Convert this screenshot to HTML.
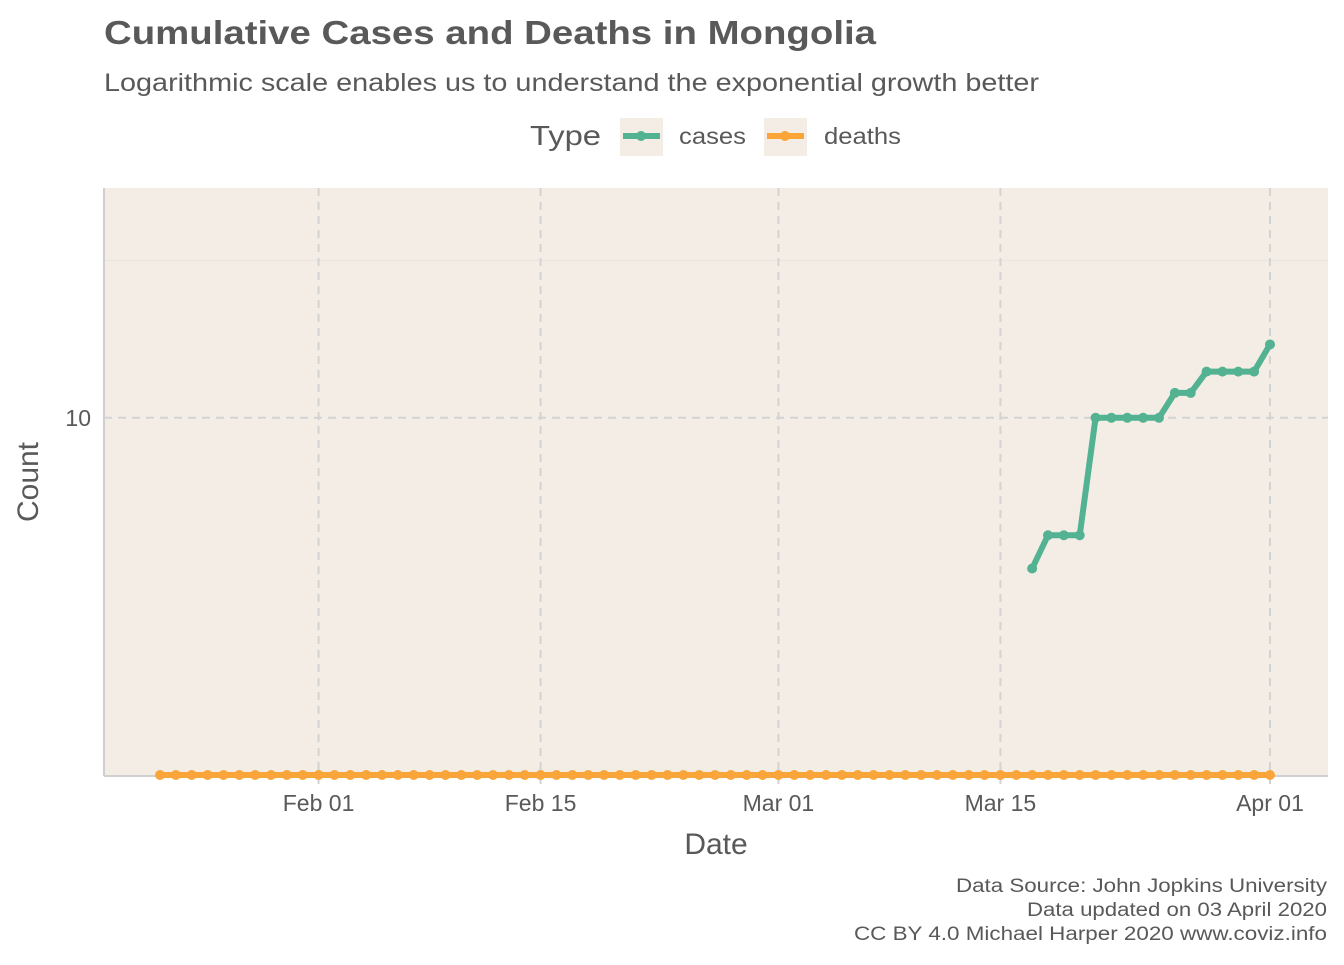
<!DOCTYPE html>
<html><head><meta charset="utf-8"><style>
body{margin:0;background:#fff;font-family:"Liberation Sans",sans-serif;}
</style></head><body>
<svg width="1344" height="960" xmlns="http://www.w3.org/2000/svg" font-family="Liberation Sans, sans-serif">
<text x="104" y="44" font-size="33" font-weight="bold" fill="#595959" textLength="772" lengthAdjust="spacingAndGlyphs">Cumulative Cases and Deaths in Mongolia</text>
<text x="104" y="91" font-size="25" fill="#595959" textLength="935" lengthAdjust="spacingAndGlyphs">Logarithmic scale enables us to understand the exponential growth better</text>
<g>
<text x="530" y="145" font-size="28" fill="#595959" textLength="71" lengthAdjust="spacingAndGlyphs">Type</text>
<g>
<rect x="620" y="118" width="43" height="38" fill="#f3ede6"/>
<line x1="623" y1="136" x2="660" y2="136" stroke="#52b291" stroke-width="6"/><circle cx="641" cy="136" r="5" fill="#52b291"/>
<text x="679" y="144" font-size="23" fill="#595959" textLength="67" lengthAdjust="spacingAndGlyphs">cases</text></g>
<g>
<rect x="764" y="118" width="43" height="38" fill="#f3ede6"/>
<line x1="767" y1="136" x2="804" y2="136" stroke="#f9a53a" stroke-width="6"/><circle cx="785" cy="136" r="5" fill="#f9a53a"/>
<text x="824" y="144" font-size="23" fill="#595959" textLength="77" lengthAdjust="spacingAndGlyphs">deaths</text></g>
</g>
<rect x="104" y="188" width="1224" height="588" fill="#f3ede6"/>
<g id="grid"></g>
<line x1="104" y1="188" x2="104" y2="776" stroke="#cfcfcf" stroke-width="2"/>
<line x1="104" y1="776" x2="1328" y2="776" stroke="#cfcfcf" stroke-width="2"/>
<g id="marks"></g>
<g id="axes"></g>
<text x="716" y="854" font-size="30" fill="#595959" text-anchor="middle">Date</text>
<text transform="translate(38,482) rotate(-90)" font-size="30" fill="#595959" text-anchor="middle">Count</text>
<g font-size="19" fill="#595959" text-anchor="end">
<text x="1327" y="892" textLength="371" lengthAdjust="spacingAndGlyphs">Data Source: John Jopkins University</text>
<text x="1327" y="916" textLength="300" lengthAdjust="spacingAndGlyphs">Data updated on 03 April 2020</text>
<text x="1327" y="940" textLength="473" lengthAdjust="spacingAndGlyphs">CC BY 4.0 Michael Harper 2020 www.coviz.info</text>
</g>
</svg>
<script>
const xTickLabels=["Feb 01","Feb 15","Mar 01","Mar 15","Apr 01"];
const xTickDays=[10,24,39,53,70]; // days since Jan 22
const yTickValues=[10];
const deathsStartDay=0, deathsEndDay=70;
const deathsValue=0;
const casesStartDay=55;
const casesValues=[3,4,4,4,10,10,10,10,10,12,12,14,14,14,14,17];
const NS="http://www.w3.org/2000/svg";
const x=d=>160+d*15.857;
const y=v=>775-Math.log10(v+1)*343;
function mk(tag,attrs,parent){const e=document.createElementNS(NS,tag);for(const k in attrs)e.setAttribute(k,attrs[k]);parent.appendChild(e);return e;}
const grid=document.getElementById('grid'),marks=document.getElementById('marks'),axes=document.getElementById('axes');
let g=mk('line',{x1:104,x2:1328,y1:y(30.62),y2:y(30.62),stroke:'#ebe6df','stroke-width':1.5},grid);


yTickValues.forEach(v=>{
 const l=mk('line',{x1:104,x2:1328,y1:y(v),y2:y(v),stroke:'#d3d3d3','stroke-width':2,'stroke-dasharray':'8,6'},grid);
 
 
 const t=mk('text',{x:91,y:y(v)+8,'font-size':23,fill:'#595959','text-anchor':'end'},axes);
 t.textContent=v;
 
 
});
xTickDays.forEach((d,i)=>{
 const l=mk('line',{x1:x(d),x2:x(d),y1:188,y2:786,stroke:'#d3d3d3','stroke-width':2,'stroke-dasharray':'8,6'},grid);
 
 
 const t=mk('text',{x:x(d),y:811,'font-size':23,fill:'#595959','text-anchor':'middle'},axes);
 t.textContent=xTickLabels[i];
 
 
});
function series(pts,color,name){
 const p=mk('polyline',{points:pts.map(q=>q.join(',')).join(' '),fill:'none',stroke:color,'stroke-width':6,'stroke-linejoin':'round'},marks);
 
 
 pts.forEach(q=>{const c=mk('circle',{cx:q[0],cy:q[1],r:5,fill:color},marks);
  
  });
}
const dp=[];for(let d=deathsStartDay;d<=deathsEndDay;d++)dp.push([x(d),y(deathsValue)]);
series(dp,'#f9a53a','deaths');
series(casesValues.map((v,i)=>[x(casesStartDay+i),y(v)]),'#52b291','cases');
</script>
</body></html>
